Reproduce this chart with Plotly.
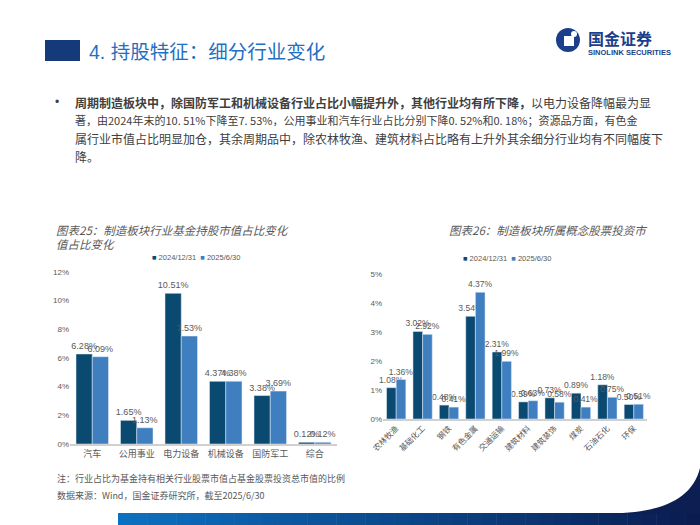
import plotly.graph_objects as go

# ---------------- data ----------------
left_categories = ["汽车", "公用事业", "电力设备", "机械设备", "国防军工", "综合"]
left_2024 = [6.28, 1.65, 10.51, 4.37, 3.38, 0.12]
left_2025 = [6.09, 1.13, 7.53, 4.38, 3.69, 0.12]

right_categories = ["农林牧渔", "基础化工", "钢铁", "有色金属", "交通运输",
                    "建筑材料", "建筑装饰", "煤炭", "石油石化", "环保"]
right_2024 = [1.08, 3.02, 0.48, 3.54, 2.31, 0.59, 0.73, 0.89, 1.18, 0.50]
right_2025 = [1.36, 2.92, 0.41, 4.37, 1.99, 0.63, 0.58, 0.41, 0.75, 0.51]

series_names = ["2024/12/31", "2025/6/30"]
left_yticks = [0, 2, 4, 6, 8, 10, 12]
right_yticks = [0, 1, 2, 3, 4, 5]

# ---------------- style ----------------
W, H = 700, 525
DARK = "#0b4a70"
LIGHT = "#3f7fc0"
GREY = "#595959"
FONT = "Liberation Sans, Noto Sans CJK SC, sans-serif"
CJK = "Noto Sans CJK SC, sans-serif"


def px(x):
    return x / W


def py(y):
    return 1 - y / H


fig = go.Figure()


def bar(cats, vals, name, color, xa, ya, size):
    return go.Bar(x=cats, y=vals, name=name, marker_color=color,
                  xaxis=xa, yaxis=ya, showlegend=False,
                  texttemplate="%{y:.2f}%", textposition="outside",
                  constraintext="none",
                  textfont=dict(size=size, color=GREY, family=FONT),
                  cliponaxis=False)


fig.add_trace(bar(left_categories, left_2024, series_names[0], DARK, "x", "y", 9))
fig.add_trace(bar(left_categories, left_2025, series_names[1], LIGHT, "x", "y", 9))
fig.add_trace(bar(right_categories, right_2024, series_names[0], DARK, "x2", "y2", 8.5))
fig.add_trace(bar(right_categories, right_2025, series_names[1], LIGHT, "x2", "y2", 8.5))

axis_common = dict(showgrid=False, zeroline=False, fixedrange=True, automargin=False)

fig.update_layout(
    width=W, height=H,
    margin=dict(l=0, r=0, t=0, b=0, autoexpand=False),
    paper_bgcolor="white", plot_bgcolor="white",
    font=dict(family=FONT, color=GREY),
    barmode="group", bargap=0.27, bargroupgap=0,
    xaxis=dict(domain=[px(70), px(337)], anchor="y", showline=True,
               linecolor="#d0d0d0", linewidth=1.5, ticks="",
               tickfont=dict(size=9, color=GREY, family=CJK), **axis_common),
    yaxis=dict(domain=[py(444), py(272)], anchor="x", range=[0, 12],
               tickvals=left_yticks, ticktext=["%d%%" % v for v in left_yticks],
               showline=False, tickfont=dict(size=8, color=GREY), **axis_common),
    xaxis2=dict(domain=[px(383), px(647)], anchor="y2", showline=True,
                linecolor="#d0d0d0", linewidth=1.5, ticks="", tickangle=-45,
                tickfont=dict(size=8, color=GREY, family=CJK), **axis_common),
    yaxis2=dict(domain=[py(419), py(274)], anchor="x2", range=[0, 5],
                tickvals=right_yticks, ticktext=["%d%%" % v for v in right_yticks],
                showline=False, tickfont=dict(size=8, color=GREY), **axis_common),
)

shapes = []
annotations = []

# compact legends (colored squares + series names)
legend_text = ("<span style='color:%s'>■</span> %s  <span style='color:%s'>■</span> %s"
               % (DARK, series_names[0], LIGHT, series_names[1]))
for cx, cy in [(196, 257), (507, 258)]:
    annotations.append(dict(text=legend_text, xref="paper", yref="paper",
                            x=px(cx), y=py(cy), xanchor="center", yanchor="middle",
                            showarrow=False, font=dict(size=7.5, color=GREY, family=FONT)))

# header square
shapes.append(dict(type="rect", xref="paper", yref="paper",
                   x0=px(45), x1=px(80), y0=py(61), y1=py(40),
                   fillcolor="#143a7a", line=dict(width=0)))
annotations.append(dict(text="4. 持股特征：细分行业变化", xref="paper", yref="paper",
                        x=px(87), y=py(52), xanchor="left", yanchor="middle",
                        showarrow=False, font=dict(size=19.5, color="#1f6fc2", family=FONT)))

# logo
shapes.append(dict(type="circle", xref="paper", yref="paper",
                   x0=px(556), x1=px(580), y0=py(52), y1=py(28),
                   fillcolor="#1b3f8b", line=dict(width=0)))
shapes.append(dict(type="rect", xref="paper", yref="paper",
                   x0=px(564), x1=px(574), y0=py(46), y1=py(36),
                   fillcolor="white", line=dict(width=0)))
shapes.append(dict(type="circle", xref="paper", yref="paper",
                   x0=px(571), x1=px(577), y0=py(37), y1=py(31),
                   fillcolor="white", line=dict(width=0)))
annotations.append(dict(text="<b>国金证券</b>", xref="paper", yref="paper",
                        x=px(586), y=py(38), xanchor="left", yanchor="middle",
                        showarrow=False, font=dict(size=16, color="#1b3f8b", family=CJK)))
annotations.append(dict(text="<b>SINOLINK SECURITIES</b>", xref="paper", yref="paper",
                        x=px(586), y=py(53), xanchor="left", yanchor="middle",
                        showarrow=False, font=dict(size=7.5, color="#1b3f8b", family=FONT)))

# paragraph
annotations.append(dict(text="•", xref="paper", yref="paper", x=px(57), y=py(102),
                        xanchor="center", yanchor="middle", showarrow=False,
                        font=dict(size=12, color="#404040")))
para_lines = [
    "<b>周期制造板块中，除国防军工和机械设备行业占比小幅提升外，其他行业均有所下降，</b>以电力设备降幅最为显",
    "著，由2024年末的10. 51%下降至7. 53%，公用事业和汽车行业占比分别下降0. 52%和0. 18%；资源品方面，有色金",
    "属行业市值占比明显加仓，其余周期品中，除农林牧渔、建筑材料占比略有上升外其余细分行业均有不同幅度下",
    "降。",
]
para_sizes = [12, 11, 12, 12]
para_y = [102, 120, 138, 156]
for t, yy, sz in zip(para_lines, para_y, para_sizes):
    annotations.append(dict(text=t, xref="paper", yref="paper", x=px(73), y=py(yy),
                            xanchor="left", yanchor="middle", showarrow=False,
                            font=dict(size=sz, color="#404040", family=CJK)))

# chart titles
annotations.append(dict(text="<i>图表25：制造板块行业基金持股市值占比变化</i>", xref="paper", yref="paper",
                        x=px(54), y=py(230), xanchor="left", yanchor="middle",
                        showarrow=False, font=dict(size=11.5, color=GREY, family=CJK)))
annotations.append(dict(text="<i>值占比变化</i>", xref="paper", yref="paper",
                        x=px(54), y=py(244), xanchor="left", yanchor="middle",
                        showarrow=False, font=dict(size=11.5, color=GREY, family=CJK)))
annotations.append(dict(text="<i>图表26：制造板块所属概念股票投资市</i>", xref="paper", yref="paper",
                        x=px(447), y=py(230), xanchor="left", yanchor="middle",
                        showarrow=False, font=dict(size=11.5, color=GREY, family=CJK)))

# notes
annotations.append(dict(text="注：行业占比为基金持有相关行业股票市值占基金股票投资总市值的比例",
                        xref="paper", yref="paper", x=px(55), y=py(478),
                        xanchor="left", yanchor="middle", showarrow=False,
                        font=dict(size=9, color=GREY, family=CJK)))
annotations.append(dict(text="数据来源：Wind，国金证券研究所，截至2025/6/30",
                        xref="paper", yref="paper", x=px(55), y=py(495),
                        xanchor="left", yanchor="middle", showarrow=False,
                        font=dict(size=9, color=GREY, family=CJK)))

# bottom gradient bar (stepped)
c0 = (12, 112, 192)
c1 = (10, 28, 80)
n = 40
x_start, x_end = 118, 700
for i in range(n):
    f = i / (n - 1)
    c = tuple(int(round(a + (b - a) * f)) for a, b in zip(c0, c1))
    xa = x_start + (x_end - x_start) * i / n
    xb = x_start + (x_end - x_start) * (i + 1) / n + 0.5
    shapes.append(dict(type="rect", xref="paper", yref="paper",
                       x0=px(xa), x1=px(min(xb, 700)), y0=py(525), y1=py(513),
                       fillcolor="rgb(%d,%d,%d)" % c, line=dict(width=0), layer="above"))
# curved corner
path = "M %f,%f C %f,%f %f,%f %f,%f L %f,%f Z" % (
    px(700), py(468), px(692), py(500), px(660), py(513), px(610), py(513.5),
    px(700), py(513.5))
shapes.append(dict(type="path", xref="paper", yref="paper", path=path,
                   fillcolor="rgb(12,30,82)", line=dict(width=0)))

fig.update_layout(shapes=shapes, annotations=annotations)

fig.write_html("out.html", config={"displayModeBar": False},
               post_script="document.body.style.margin='0';document.body.style.padding='0';")
